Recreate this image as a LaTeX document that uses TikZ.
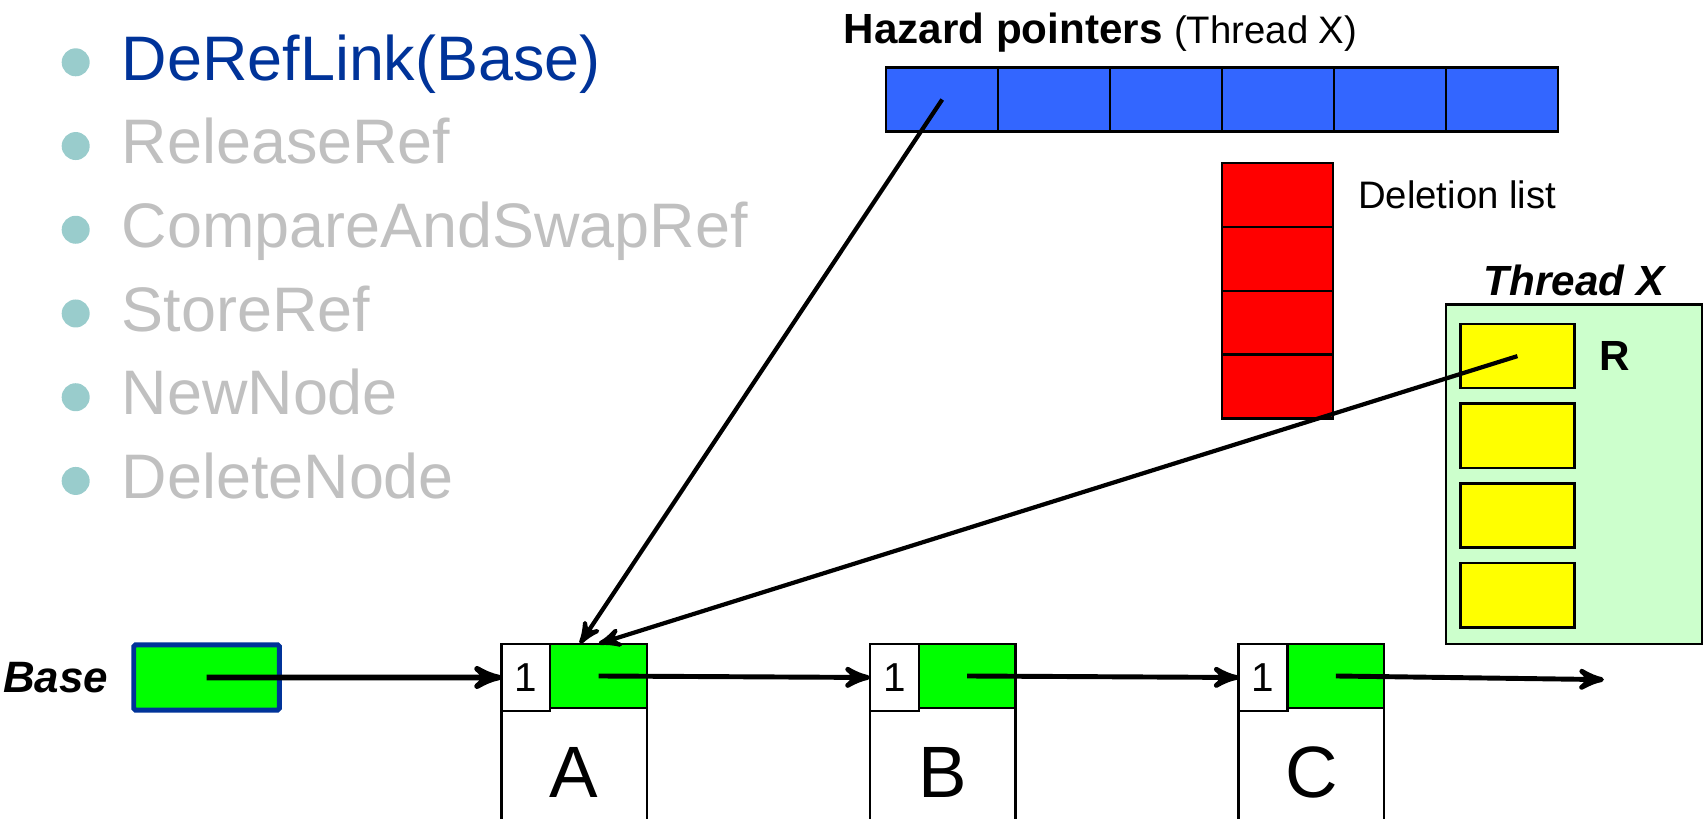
\documentclass[tikz,border=0pt]{standalone}
\usepackage{fontspec}
\setmainfont{Liberation Sans}
\usetikzlibrary{arrows,positioning}

\definecolor{hpblue}{HTML}{3366FF}
\definecolor{dlred}{HTML}{FF0000}
\definecolor{ptrgreen}{HTML}{00FF00}
\definecolor{thrgreen}{HTML}{CCFFCC}
\definecolor{regyellow}{HTML}{FFFF00}
\definecolor{baseblue}{HTML}{003399}
\definecolor{bulteal}{HTML}{99CCCC}
\definecolor{grayed}{HTML}{C0C0C0}

\begin{document}
\begin{tikzpicture}[x=0.10874mm,y=-0.10874mm,>=stealth',semithick]
	\tikzstyle{item}=[anchor=base west,inner sep=0pt,font=\fontsize{17.9}{20}\selectfont]
	\tikzstyle{dot}=[circle,fill=bulteal,inner sep=0pt,minimum size=2.8mm]
	\tikzstyle{cell}=[draw=black,line width=0.7pt,inner sep=0pt,outer sep=0pt]
	\tikzstyle{hpcell}=[cell,fill=hpblue,minimum width=11.2mm,minimum height=6.42mm]
	\tikzstyle{dlcell}=[cell,fill=dlred,minimum width=11.09mm,minimum height=6.39mm]
	\tikzstyle{reg}=[cell,fill=regyellow,minimum width=11.42mm,minimum height=6.42mm]
	\tikzstyle{body}=[cell,fill=white,minimum width=14.57mm,minimum height=25.66mm,font=\fontsize{20.7}{24}\selectfont]
	\tikzstyle{cnt}=[cell,fill=white,minimum width=4.89mm,minimum height=6.75mm,font=\fontsize{11.5}{13}\selectfont]
	\tikzstyle{lnk}=[cell,fill=ptrgreen,minimum width=9.68mm,minimum height=6.45mm]
	\tikzstyle{ptr}=[->,line width=1.4pt]

	\clip (0,0) rectangle (1568,752.3);

	% operations
	\foreach \t/\c [count=\i] in {DeRefLink(Base)/baseblue,ReleaseRef/grayed,CompareAndSwapRef/grayed,StoreRef/grayed,NewNode/grayed,DeleteNode/grayed} {
		\node[dot] (dot\i) at (69.6,{57.3+77*(\i-1)}) {};
		\node[item,text=\c] (op\i) at (111,{73.6+77*(\i-1)}) {\t};
	}

	% hazard pointers
	\node[anchor=west,inner sep=0pt] (hptitle) at (775,30) {\fontsize{12}{14}\selectfont\bfseries Hazard pointers \fontsize{10.9}{13}\selectfont\mdseries (Thread X)};
	\foreach \i in {1,...,6}
		\node[hpcell] (hp\i) at ({815+103*\i-51.5},91.5) {};

	% deletion list
	\foreach \i in {1,...,4}
		\node[dlcell] (dl\i) at (1175,{150+58.75*\i-29.4}) {};
	\node[inner sep=0pt,anchor=west,font=\fontsize{10.9}{13}\selectfont] (dllabel) [right=2.4mm of dl1] {Deletion list};

	% thread X
	\node[draw=black,line width=0.7pt,fill=thrgreen,minimum width=25.55mm,minimum height=33.93mm] (thr) at (1447.5,436) {};
	\node[inner sep=0pt,font=\bfseries\itshape\fontsize{12}{14}\selectfont] (thrlabel) [above=0.65mm of thr] {Thread X};
	\foreach \i in {1,...,4}
		\node[reg] (reg\i) at (1395.5,{327.5+73.3*(\i-1)}) {};
	\node[inner sep=0pt,font=\bfseries\fontsize{12}{14}\selectfont] (rlabel) [right=2.4mm of reg1] {R};

	% base
	\node[draw=baseblue,line width=1.4pt,fill=ptrgreen,rounded corners=0.5pt,minimum width=14.57mm,minimum height=6.52mm] (base) at (190,623) {};
	\node[inner sep=0pt,font=\bfseries\itshape\fontsize{12.5}{14}\selectfont] (baselabel) [left=2.2mm of base] {Base};

	% list nodes
	\foreach \n/\x in {A/461,B/800,C/1139} {
		\node[body] (\n) at ({\x+67},710) {\n};
		\node[cnt,anchor=north west] (cnt\n) at (\n.north west) {1};
		\node[lnk,anchor=north east] (lnk\n) at (\n.north east) {};
	}
	\coordinate (tail) at (1475,625);

	\draw[ptr,line width=1.6pt] (base.center) -- (cntA.west);
	\draw[ptr] (lnkA.center) -- (cntB.west);
	\draw[ptr] (lnkB.center) -- (cntC.west);
	\draw[ptr] (lnkC.center) -- (tail);
	\draw[ptr,line width=1.2pt] (hp1.center) -- (lnkA.120);
	\draw[ptr,line width=1.2pt] (reg1.center) -- (lnkA.north);
\end{tikzpicture}
\end{document}
